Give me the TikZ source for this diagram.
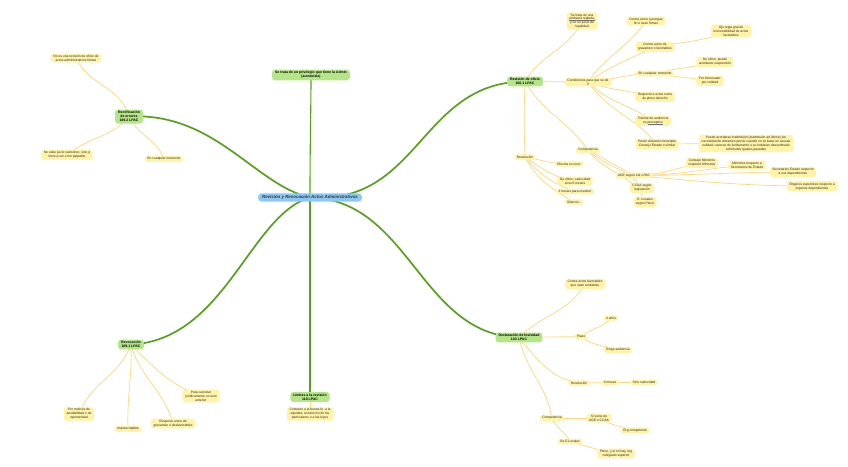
\documentclass[tikz,border=0pt]{standalone}
\usepackage{fontspec}
\setmainfont{Liberation Sans}
\pgfdeclarelayer{bg}
\pgfdeclarelayer{paper}
\pgfsetlayers{paper,bg,main}
\definecolor{leaffill}{RGB}{255,243,168}
\definecolor{leafline}{RGB}{255,214,120}
\definecolor{mainfill}{RGB}{180,230,135}
\definecolor{mainline}{RGB}{88,160,30}
\definecolor{centerfill}{RGB}{140,200,245}
\newcommand\myul[1]{\setbox0\hbox{#1}\rlap{\textcolor{black!55}{\rule[-0.5pt]{\wd0}{0.12pt}}}\box0}
\tikzset{
 leaf/.style={fill=leaffill, rounded corners=2.5pt, inner xsep=2.5pt, inner ysep=1.3pt, align=center, font=\fontsize{3.3}{3.9}\selectfont, text=black!85},
 mainnode/.style={fill=mainfill, rounded corners=3pt, inner xsep=3pt, inner ysep=1.6pt, align=center, font=\fontsize{3.5}{4.1}\selectfont\bfseries},
 centernode/.style={fill=centerfill, rounded corners=3.5pt, inner xsep=4pt, inner ysep=2pt, font=\fontsize{4.4}{5}\selectfont\bfseries\itshape, text=black!80},
 leafedge/.style={draw=leafline, line width=0.7pt},
 mainedge/.style={draw=mainline, line width=1.7pt},
 vedge/.style={draw=mainline, line width=1.1pt},
}
\begin{document}
\begin{tikzpicture}[x=1pt,y=-1pt]
\begin{pgfonlayer}{paper}
\fill[white] (0,0) rectangle (848,466);
\end{pgfonlayer}
\useasboundingbox (0,0) rectangle (848,466);
% center
\node[centernode] (c) at (310,197.5) {Revisión y Revocación Actos Administrativos};
% main nodes
\node[mainnode] (top) at (311,75) {Se trata de un privilegio que tiene la Admin\\(autotutela)};
\node[mainnode] (rect) at (129,116.5) {Rectificación\\de errores\\109.2 LPAC};
\node[mainnode] (rev) at (525,81.5) {Revisión de oficio\\106.1 LPAC};
\node[mainnode] (revo) at (131,344.5) {Revocación\\109.1 LPAC};
\node[mainnode] (lim) at (310,397) {Límites a la revisión\\110 LPAC};
\node[mainnode] (dec) at (519,337.5) {Declaración de lesividad\\103 LPAC};
% Rectificación leaves
\node[leaf] (r1) at (76,58) {No es una revisión de oficio de\\actos administrativos firmes};
\node[leaf] (r2) at (67,155) {No cabe juicio valorativo, sino q\\tiene q ser error palpable};
\node[leaf] (r3) at (164,159) {En cualquier momento};
% Revisión de oficio
\node[leaf] (o1) at (582,21) {Se trata de una\\\myul{potestad reglada,}\\y no un juicio de\\legalidad};
\node[leaf] (cond) at (588,82) {Condiciones para que se dé\\ll};
\node[leaf] (c1) at (646,21) {Contra actos q pongan\\fin o sean firmes};
\node[leaf] (c2) at (655,47) {Contra actos de\\gravamen o favorables};
\node[leaf] (c2a) at (731,31) {Ojo regla gral de\\irrevocabilidad de actos\\favorables};
\node[leaf] (c3) at (655,73.5) {En cualquier momento};
\node[leaf] (c3a) at (715,62) {De oficio: puede\\acordarse suspensión};
\node[leaf] (c3b) at (710,81) {Por interesado:\\por nulidad};
\node[leaf] (c4) at (655,97) {Respecto a actos nulos\\de pleno derecho};
\node[leaf] (c5) at (653,121) {Trámite de audiencia\\es \myul{preceptivo}};
\node[leaf] (c6) at (657,144) {Previo dictamen favorable\\Consejo Estado o similar};
\node[leaf] (c6a) at (746,143.5) {Puede acordarse inadmisión (inadmisión ad límine) sin\\necesidad de dictamen previo cuando no se base en causas\\nulidad, carezca de fundamento o se hubieran desestimado\\solicitudes iguales pasadas};
\node[leaf] (comp) at (588,150) {Competencia};
\node[leaf] (age) at (634,175.5) {AGE según 111 LPAC};
\node[leaf] (age1) at (702,163) {Consejo Ministros\\respecto Ministros};
\node[leaf] (age2) at (747,165) {Ministros respecto a\\Secretarios de Estado};
\node[leaf] (age3) at (793,172) {Secretarios Estado respecto\\a sus dependientes};
\node[leaf] (age4) at (812,186) {Órganos superiores respecto a\\órganos dependientes};
\node[leaf] (ccaa) at (642,188) {CCAA según\\legislación};
\node[leaf] (el) at (645,202) {E. Locales\\según Pleno};
\node[leaf] (res) at (525,157) {Resolución};
\node[leaf] (res1) at (569,164) {Efectos ex nunc};
\node[leaf] (res2) at (575,181) {De oficio: caducidad\\a los 6 meses};
\node[leaf] (res3) at (575,191.5) {3 meses para resolver};
\node[leaf] (res4) at (574,202) {Silencio -};
% Revocación
\node[leaf] (v1) at (79,414) {Por motivos de\\anulabilidad o de\\oportunidad};
\node[leaf] (v2) at (128,429) {Imprescriptible};
\node[leaf] (v3) at (173,423.5) {Respecto actos de\\gravamen o desfavorables};
\node[leaf] (v4) at (201,396) {Para cancelar\\jurídicamente un acto\\anterior};
% Límites
\node[leaf] (l1) at (310,414) {Contrario a la buena fe, a la\\equidad, al derecho de los\\particulares o a las leyes};
% Declaración
\node[leaf] (d1) at (585,284) {Contra actos favorables\\que sean anulables};
\node[leaf] (plazo) at (581,336.5) {Plazo};
\node[leaf] (p1) at (611,318) {4 años};
\node[leaf] (p2) at (618,350) {Exige audiencia};
\node[leaf] (dres) at (579,383) {Resolución};
\node[leaf] (dres1) at (610,382.5) {6 meses};
\node[leaf] (dres2) at (644,382.5) {Sino caducidad};
\node[leaf] (dcomp) at (552,418) {Competencia};
\node[leaf] (dc1) at (599,418) {Si viene de\\AGE o CCAA};
\node[leaf] (dc1a) at (635,430.5) {Órg competente};
\node[leaf] (dc2) at (570,441.5) {De E.Locales};
\node[leaf] (dc2a) at (616,453.5) {Pleno, y si no hay, órg\\colegiado superior};

\begin{pgfonlayer}{bg}
% main edges
\draw[vedge] (c.center) .. controls (310,140) and (311,110) .. (top.center);
\draw[vedge] (c.center) .. controls (310,260) and (310,340) .. (lim.center);
\draw[mainedge] (c.center) .. controls (255,185) and (215,112) .. (rect.center);
\draw[mainedge] (c.center) .. controls (420,205) and (420,82) .. (rev.center);
\draw[mainedge] (c.center) .. controls (250,215) and (225,340) .. (revo.center);
\draw[mainedge] (c.center) .. controls (410,200) and (420,335) .. (dec.center);
% Rectificación
\draw[leafedge] (rect.center) to[out=105,in=-65] (r1.center);
\draw[leafedge] (rect.center) to[out=-130,in=40] (r2.center);
\draw[leafedge] (rect.center) to[out=-65,in=110] (r3.center);
% Revisión de oficio
\draw[leafedge] (rev.center) to[out=60,in=-115] (o1.center);
\draw[leafedge] (rev.center) -- (cond.center);
\draw[leafedge] (rev.center) to[out=-92,in=92] (res.center);
\draw[leafedge] (rev.center) to[out=-60,in=125] (comp.center);
\draw[leafedge] (cond.center) to[out=55,in=-125] (c1.center);
\draw[leafedge] (cond.center) to[out=35,in=-155] (c2.center);
\draw[leafedge] (cond.center) to[out=5,in=180] (c3.center);
\draw[leafedge] (cond.center) to[out=-20,in=165] (c4.center);
\draw[leafedge] (cond.center) to[out=-45,in=145] (c5.center);
\draw[leafedge] (cond.center) to[out=-55,in=130] (c6.center);
\draw[leafedge] (c2.center) to[out=10,in=200] (c2a.center);
\draw[leafedge] (c3.center) to[out=15,in=195] (c3a.center);
\draw[leafedge] (c3.center) to[out=-10,in=170] (c3b.center);
\draw[leafedge] (c6.center) -- (c6a.center);
\draw[leafedge] (comp.center) to[out=-30,in=150] (age.center);
\draw[leafedge] (comp.center) to[out=-45,in=125] (ccaa.center);
\draw[leafedge] (comp.center) to[out=-55,in=110] (el.center);
\draw[leafedge] (age.center) to[out=0,in=190] (age1.center);
\draw[leafedge] (age.center) to[out=0,in=185] (age2.center);
\draw[leafedge] (age.center) to[out=0,in=180] (age3.center);
\draw[leafedge] (age.center) to[out=-5,in=180] (age4.center);
\draw[leafedge] (res.center) to[out=-10,in=180] (res1.center);
\draw[leafedge] (res.center) to[out=-35,in=170] (res2.center);
\draw[leafedge] (res.center) to[out=-50,in=160] (res3.center);
\draw[leafedge] (res.center) to[out=-62,in=150] (res4.center);
% Revocación
\draw[leafedge] (revo.center) to[out=-110,in=70] (v1.center);
\draw[leafedge] (revo.center) to[out=-88,in=92] (v2.center);
\draw[leafedge] (revo.center) to[out=-75,in=105] (v3.center);
\draw[leafedge] (revo.center) to[out=-45,in=160] (v4.center);
% Límites
\draw[leafedge] (lim.center) -- (l1.center);
% Declaración
\draw[leafedge] (dec.center) to[out=45,in=-120] (d1.center);
\draw[leafedge] (dec.center) -- (plazo.center);
\draw[leafedge] (dec.center) to[out=-50,in=170] (dres.center);
\draw[leafedge] (dec.center) to[out=-78,in=100] (dcomp.center);
\draw[leafedge] (plazo.center) to[out=40,in=-130] (p1.center);
\draw[leafedge] (plazo.center) to[out=-40,in=160] (p2.center);
\draw[leafedge] (dres.center) -- (dres1.center);
\draw[leafedge] (dres1.center) -- (dres2.center);
\draw[leafedge] (dcomp.center) -- (dc1.center);
\draw[leafedge] (dc1.center) to[out=-30,in=165] (dc1a.center);
\draw[leafedge] (dcomp.center) to[out=-70,in=115] (dc2.center);
\draw[leafedge] (dc2.center) to[out=-15,in=170] (dc2a.center);
\end{pgfonlayer}
\end{tikzpicture}
\end{document}
